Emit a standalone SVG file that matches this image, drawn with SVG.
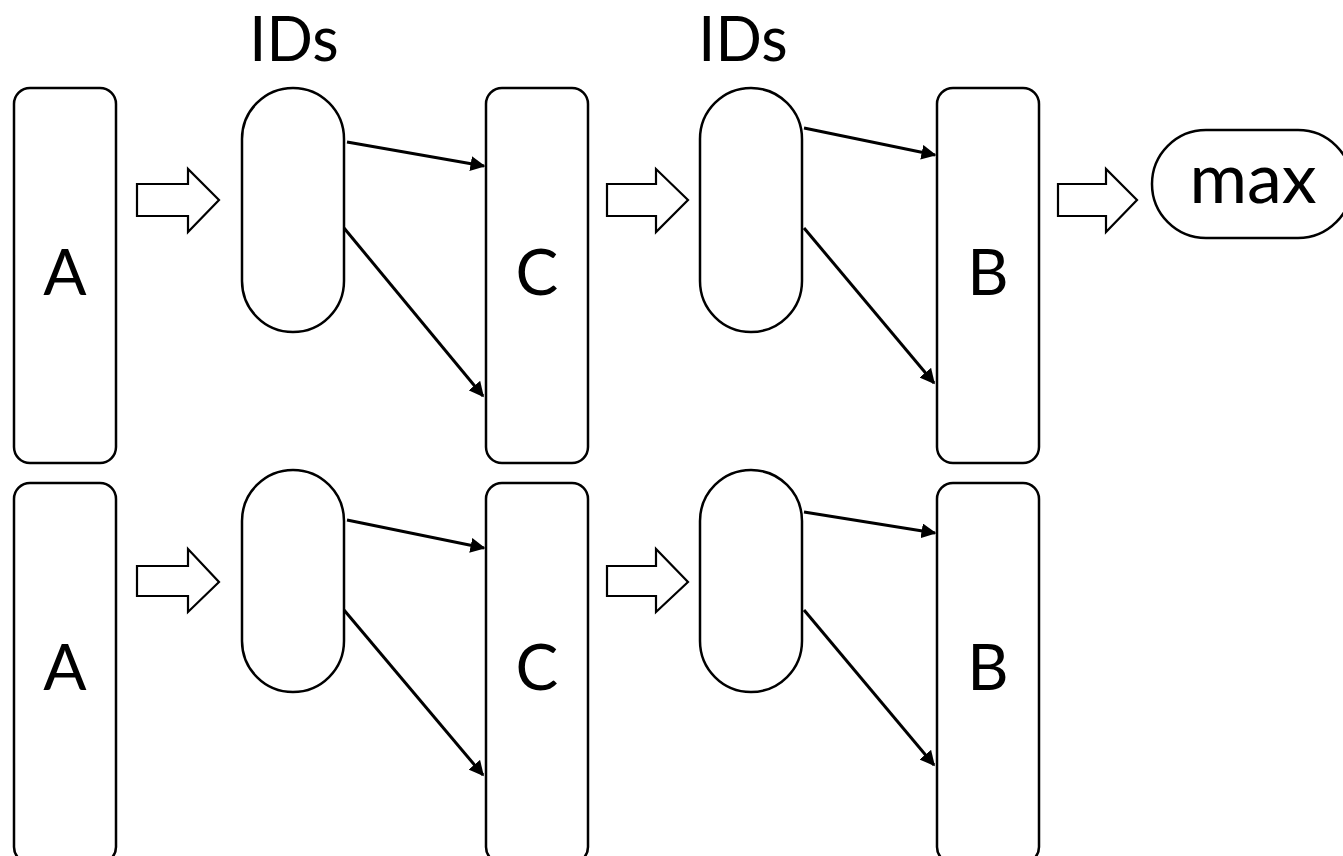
<svg xmlns="http://www.w3.org/2000/svg" width="1343" height="856" viewBox="0 0 1343 856">
<style>
.box{fill:#fff;stroke:#000;stroke-width:2.5}
.ha{fill:#fff;stroke:#000;stroke-width:2.2;stroke-linejoin:miter}
.c{stroke:#000;stroke-width:3;fill:none;marker-end:url(#ah)}
text{font-family:Lato,"Open Sans","Liberation Sans",sans-serif;fill:#000;text-anchor:middle}
.big{font-size:64px}
.ids{font-size:61px}
.mx{font-size:70px}
</style>
<defs>
<marker id="ah" viewBox="0 0 10 10" refX="9" refY="5" markerWidth="5" markerHeight="5" orient="auto" markerUnits="strokeWidth">
<path d="M0,0 L10,5 L0,10 z" fill="#000"/>
</marker>
</defs>
<g id="label-ids1"><text class="ids" x="294" y="61">IDs</text></g>
<g id="label-ids2"><text class="ids" x="743" y="61">IDs</text></g>
<g id="A1"><rect class="box" x="14" y="88" width="102" height="375" rx="16"/><text class="big" x="65" y="295">A</text></g>
<g id="A2"><rect class="box" x="14" y="483" width="102" height="380" rx="16"/><text class="big" x="65" y="690">A</text></g>
<g id="P1"><rect class="box" x="242" y="88" width="102" height="244" rx="51"/></g>
<g id="P2"><rect class="box" x="242" y="470" width="102" height="222" rx="51"/></g>
<g id="C1"><rect class="box" x="486" y="88" width="102" height="375" rx="16"/><text class="big" x="537" y="295">C</text></g>
<g id="C2"><rect class="box" x="486" y="483" width="102" height="380" rx="16"/><text class="big" x="537" y="690">C</text></g>
<g id="P3"><rect class="box" x="700" y="88" width="102" height="244" rx="51"/></g>
<g id="P4"><rect class="box" x="700" y="470" width="102" height="222" rx="51"/></g>
<g id="B1"><rect class="box" x="937" y="88" width="102" height="375" rx="16"/><text class="big" x="988" y="295">B</text></g>
<g id="B2"><rect class="box" x="937" y="483" width="102" height="380" rx="16"/><text class="big" x="988" y="690">B</text></g>
<g id="max"><rect class="box" x="1152" y="130" width="200" height="108" rx="54"/><text class="mx" x="1253" y="203">max</text></g>
<g id="connectors">
<path class="ha" d="M137,184 H188 V169 L219,200 L188,232 V216 H137 Z"/>
<path class="ha" d="M607,184 H656 V169 L688,200 L656,232 V216 H607 Z"/>
<path class="ha" d="M1058,184 H1106 V169 L1137,200 L1106,232 V216 H1058 Z"/>
<path class="ha" d="M137,566 H188 V549 L219,582 L188,612 V596 H137 Z"/>
<path class="ha" d="M607,566 H656 V549 L688,582 L656,612 V596 H607 Z"/>
<line class="c" x1="347" y1="142" x2="484" y2="166"/>
<line class="c" x1="344" y1="228" x2="483" y2="396"/>
<line class="c" x1="804" y1="128" x2="935" y2="155"/>
<line class="c" x1="804" y1="228" x2="934" y2="383"/>
<line class="c" x1="347" y1="520" x2="484" y2="548"/>
<line class="c" x1="344" y1="610" x2="483" y2="775"/>
<line class="c" x1="804" y1="512" x2="935" y2="533"/>
<line class="c" x1="804" y1="610" x2="934" y2="765"/>
</g>
</svg>
